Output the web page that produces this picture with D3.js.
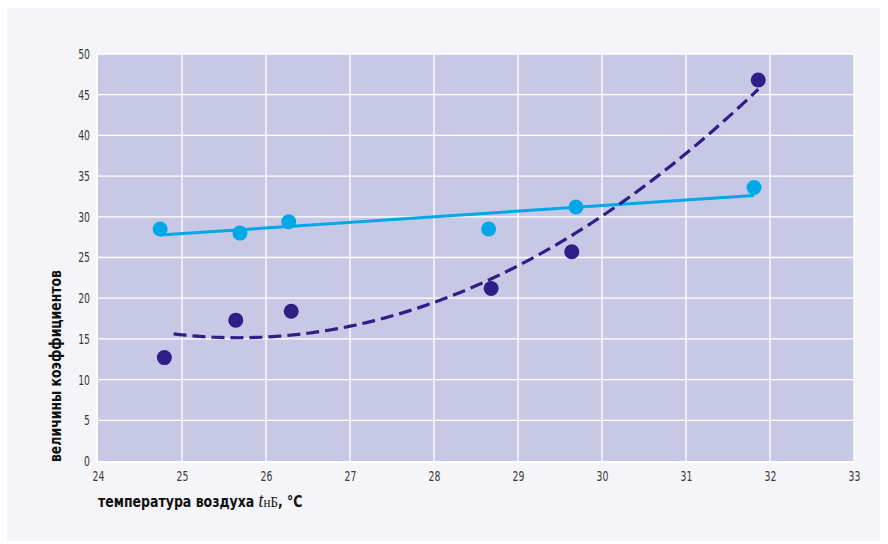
<!DOCTYPE html>
<html>
<head>
<meta charset="utf-8">
<script src="https://cdn.jsdelivr.net/npm/d3@7"></script>
<style>
  html, body { margin: 0; padding: 0; background: #ffffff; }
  svg { display: block; }
  .tick text { font-family: "Liberation Sans Narrow", "DejaVu Sans Condensed", "Roboto", sans-serif; font-stretch: condensed; }
</style>
</head>
<body>
<svg id="chart" width="888" height="544"></svg>
<script>
// Air temperature, °C
const tempBlue = [24.74, 25.69, 26.27, 28.65, 29.69, 31.81];
const valBlue  = [28.5, 28.0, 29.4, 28.5, 31.2, 33.6];
const tempDark = [24.79, 25.64, 26.30, 28.68, 29.64, 31.86];
const valDark  = [12.7, 17.3, 18.4, 21.2, 25.7, 46.8];

const xTicks = [24, 25, 26, 27, 28, 29, 30, 31, 32, 33];
const yTicks = [0, 5, 10, 15, 20, 25, 30, 35, 40, 45, 50];

const colBlue = "#00a8e8";
const colDark = "#2d1f86";

const svg = d3.select("#chart");
const W = 888, H = 544;
const m = { left: 98, right: 34, top: 54, bottom: 83 };

// page panel
svg.append("rect").attr("x", 7).attr("y", 8).attr("width", 873).attr("height", 533).attr("fill", "#f4f4f9");

const x = d3.scaleLinear().domain([24, 33]).range([m.left, W - m.right]);
const y = d3.scaleLinear().domain([0, 50]).range([H - m.bottom, m.top]);

// plot area
svg.append("rect")
  .attr("x", x(24)).attr("y", y(50))
  .attr("width", x(33) - x(24)).attr("height", y(0) - y(50))
  .attr("fill", "#c7c8e5");

// grid
svg.append("g").selectAll("line").data(xTicks.slice(1)).join("line")
  .attr("x1", d => x(d)).attr("x2", d => x(d))
  .attr("y1", y(50)).attr("y2", y(0))
  .attr("stroke", "#ffffff").attr("stroke-width", 1.3);
svg.append("g").selectAll("line").data(yTicks.slice(1)).join("line")
  .attr("x1", x(24)).attr("x2", x(33))
  .attr("y1", d => y(d)).attr("y2", d => y(d))
  .attr("stroke", "#ffffff").attr("stroke-width", 1.3);
// base lines
svg.append("line").attr("x1", x(24)).attr("x2", x(33)).attr("y1", y(0) + 1).attr("y2", y(0) + 1)
  .attr("stroke", "#ffffff").attr("stroke-width", 2);
svg.append("line").attr("x1", x(24) - 1).attr("x2", x(24) - 1).attr("y1", y(50)).attr("y2", y(0) + 2)
  .attr("stroke", "#ffffff").attr("stroke-width", 2);

// axes
const xAxis = svg.append("g").attr("transform", `translate(0,${y(0) + 8})`)
  .call(d3.axisBottom(x).tickValues(xTicks).tickSize(0).tickPadding(0));
const yAxis = svg.append("g").attr("transform", `translate(${x(24) - 8},0)`)
  .call(d3.axisLeft(y).tickValues(yTicks).tickSize(0).tickPadding(0));
[xAxis, yAxis].forEach(g => {
  g.select(".domain").remove();
  g.selectAll("text").attr("fill", "#3a3a3a").attr("font-size", 14)
    .attr("transform", "scale(0.74,1)");
});
xAxis.selectAll("text").attr("dy", "0.85em");

// least-squares polynomial fit
function polyfit(xs, ys, deg) {
  const n = deg + 1;
  const A = Array.from({ length: n }, () => new Array(n + 1).fill(0));
  xs.forEach((xv, k) => {
    for (let i = 0; i < n; i++) {
      for (let j = 0; j < n; j++) A[i][j] += Math.pow(xv, i + j);
      A[i][n] += ys[k] * Math.pow(xv, i);
    }
  });
  for (let i = 0; i < n; i++) {
    let p = i;
    for (let r = i + 1; r < n; r++) if (Math.abs(A[r][i]) > Math.abs(A[p][i])) p = r;
    [A[i], A[p]] = [A[p], A[i]];
    for (let r = 0; r < n; r++) {
      if (r === i) continue;
      const f = A[r][i] / A[i][i];
      for (let c = i; c <= n; c++) A[r][c] -= f * A[i][c];
    }
  }
  return A.map((row, i) => row[n] / row[i]);
}
const evalPoly = (c, t) => c.reduce((s, ci, i) => s + ci * Math.pow(t, i), 0);

const line = d3.line().x(d => x(d[0])).y(d => y(d[1])).curve(d3.curveLinear);

// linear trend for the light series
const cBlue = polyfit(tempBlue, valBlue, 1);
const tB0 = d3.min(tempBlue), tB1 = d3.max(tempBlue);
svg.append("path")
  .datum([[tB0, evalPoly(cBlue, tB0)], [tB1, evalPoly(cBlue, tB1)]])
  .attr("d", line).attr("fill", "none")
  .attr("stroke", colBlue).attr("stroke-width", 3);

// quadratic trend for the dark series
const cDark = polyfit(tempDark, valDark, 2);
const tD0 = 24.9, tD1 = d3.max(tempDark);
const curvePts = d3.range(0, 101).map(i => {
  const t = tD0 + (tD1 - tD0) * i / 100;
  return [t, evalPoly(cDark, t)];
});
svg.append("path")
  .datum(curvePts)
  .attr("d", line).attr("fill", "none")
  .attr("stroke", colDark).attr("stroke-width", 3.2)
  .attr("stroke-dasharray", "13,6");

// points
svg.append("g").selectAll("circle").data(d3.zip(tempBlue, valBlue)).join("circle")
  .attr("cx", d => x(d[0])).attr("cy", d => y(d[1])).attr("r", 7.5).attr("fill", colBlue);
svg.append("g").selectAll("circle").data(d3.zip(tempDark, valDark)).join("circle")
  .attr("cx", d => x(d[0])).attr("cy", d => y(d[1])).attr("r", 7.5).attr("fill", colDark);

// axis titles
const titleFont = "'Liberation Sans Narrow', 'DejaVu Sans Condensed', Roboto, sans-serif";
svg.append("text")
  .attr("transform", `translate(61,366) rotate(-90)`)
  .attr("text-anchor", "middle")
  .attr("font-family", titleFont).attr("font-weight", "bold").attr("font-size", 16)
  .attr("font-stretch", "condensed").attr("fill", "#111")
  .attr("textLength", 192).attr("lengthAdjust", "spacingAndGlyphs")
  .text("величины коэффициентов");

const xt = svg.append("text")
  .attr("transform", "translate(98,507) scale(0.87,1)")
  .attr("font-family", titleFont).attr("font-weight", "bold").attr("font-size", 16)
  .attr("font-stretch", "condensed").attr("fill", "#111");
xt.append("tspan").text("температура воздуха ");
xt.append("tspan").attr("font-family", "'Liberation Serif', 'DejaVu Serif', serif")
  .attr("font-style", "italic").attr("font-weight", "normal").attr("font-size", 20).text("t");
xt.append("tspan").attr("font-family", "'Liberation Serif', 'DejaVu Serif', serif")
  .attr("font-weight", "normal").attr("font-size", 15).text("нБ");
xt.append("tspan").text(", °C");
</script>
</body>
</html>
